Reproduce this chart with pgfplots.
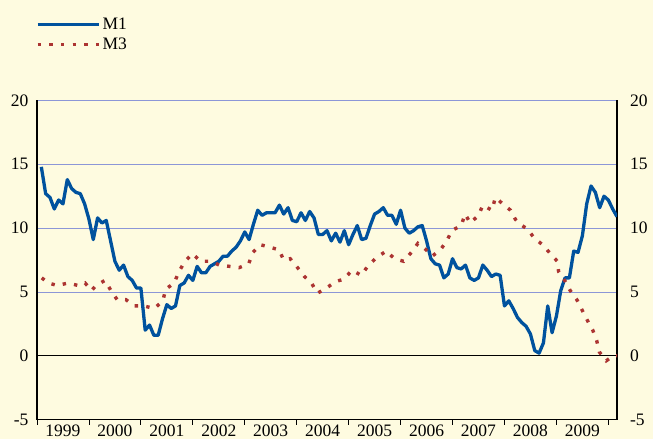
\documentclass[border=0pt]{standalone}
\usepackage{fontspec}
\setmainfont{Liberation Serif}
\usepackage{pgfplots}
\usepackage{pgfplotstable}
\pgfplotsset{compat=1.18}
\definecolor{bgcream}{RGB}{254,251,224}
\definecolor{monblue}{RGB}{0,82,158}
\definecolor{mthred}{RGB}{172,52,50}
\definecolor{gridblue}{RGB}{140,150,215}

% M1, monthly from Jan 1999 (i = months since Dec 1998)
\pgfplotstableread{
i v
1 14.8
2 12.7
3 12.4
4 11.5
5 12.2
6 11.9
7 13.8
8 13.1
9 12.8
10 12.7
11 11.9
12 10.7
13 9.1
14 10.8
15 10.4
16 10.6
17 9.0
18 7.4
19 6.7
20 7.1
21 6.2
22 5.9
23 5.3
24 5.3
25 2.0
26 2.4
27 1.6
28 1.6
29 2.9
30 4.0
31 3.7
32 3.9
33 5.5
34 5.7
35 6.3
36 5.9
37 7.0
38 6.5
39 6.5
40 7.0
41 7.2
42 7.4
43 7.8
44 7.8
45 8.2
46 8.5
47 9.0
48 9.7
49 9.1
50 10.3
51 11.4
52 11.0
53 11.2
54 11.2
55 11.2
56 11.8
57 11.1
58 11.6
59 10.6
60 10.5
61 11.2
62 10.6
63 11.3
64 10.8
65 9.5
66 9.5
67 9.8
68 9.0
69 9.6
70 8.9
71 9.8
72 8.7
73 9.5
74 10.2
75 9.1
76 9.2
77 10.2
78 11.1
79 11.3
80 11.6
81 11.0
82 11.0
83 10.3
84 11.4
85 10.0
86 9.6
87 9.8
88 10.1
89 10.2
90 9.0
91 7.6
92 7.2
93 7.1
94 6.1
95 6.4
96 7.6
97 6.9
98 6.8
99 7.1
100 6.1
101 5.9
102 6.1
103 7.1
104 6.7
105 6.2
106 6.4
107 6.3
108 3.9
109 4.3
110 3.7
111 3.0
112 2.6
113 2.3
114 1.7
115 0.4
116 0.2
117 1.0
118 3.9
119 1.8
120 3.1
121 5.1
122 6.1
123 6.1
124 8.2
125 8.1
126 9.4
127 11.9
128 13.3
129 12.8
130 11.6
131 12.5
132 12.2
133 11.5
134 10.9
}\mone

% M3
\pgfplotstableread{
i v
1.1 6.1
2.6 5.7
4.7 5.5
7.2 5.7
9.5 5.5
11.1 5.7
12.6 5.1
13.6 5.5
15.7 5.9
17.1 5.1
18.5 4.4
20.5 4.4
22.5 3.9
24.7 3.9
27.1 3.7
29.1 4.3
29.7 5.2
31.7 5.7
32.8 6.6
34.2 7.4
35.9 8.0
37.8 7.4
40.3 7.4
42.1 7.1
44.5 7.0
46.7 6.9
48.9 7.2
49.9 8.1
51.6 8.7
53.8 8.5
55.9 8.3
57.0 7.5
58.5 7.6
60.2 6.9
61.8 6.2
63.4 5.7
64.8 4.9
66.9 5.3
68.9 5.8
70.9 6.0
72.8 6.7
74.9 6.3
76.6 7.1
78.5 7.7
80.7 8.2
82.6 7.6
84.7 7.4
86.5 8.1
88.0 8.8
89.9 8.3
91.3 7.8
93.2 8.3
94.7 9.0
95.8 9.8
98.0 10.2
98.9 11.1
100.1 10.4
102.0 11.0
103.0 11.8
105.1 11.4
105.9 12.4
107.6 11.9
109.4 11.4
110.5 10.7
111.6 10.3
113.4 9.9
114.9 9.2
116.8 8.7
118.6 8.0
120.2 7.4
120.5 6.6
121.9 5.9
123.2 5.1
124.7 4.4
125.9 3.6
127.1 2.8
128.4 2.0
129.3 1.2
129.9 0.3
131.5 -0.4
133.2 0.0
134.0 0.0
}\mthree

\begin{document}
\begin{tikzpicture}[font=\fontsize{17.5}{20}\selectfont]
\fill[bgcream, use as bounding box] (-37pt,-19.5pt) rectangle (616pt,419.5pt);

\begin{axis}[
  at={(0,0)}, anchor=south west,
  scale only axis, width=580pt, height=319pt,
  xmin=0, xmax=134, ymin=-5, ymax=20,
  separate axis lines,
  axis x line*=bottom, axis y line*=box,
  x axis line style={-, line width=1.4pt, black},
  y axis line style={-, line width=1.4pt, black},
  xtick={0,12,...,132},
  xticklabels={1999,2000,2001,2002,2003,2004,2005,2006,2007,2008,2009},
  x tick label as interval,
  xtick style={black, line width=0.8pt},
  ytick={-5,5,10,15,20},
  ytick style={draw=none},
  extra y ticks={0},
  extra y tick style={grid style={black, line width=1.2pt}, ytick style={draw=none}},
  ymajorgrids,
  grid style={gridblue, line width=0.8pt},
  tick align=outside,
  major tick length=5pt,
  xticklabel style={yshift=3.5pt},
  /pgf/number format/assume math mode=true,
  legend image code/.code={\draw[#1] (0pt,0pt) -- (41pt,0pt); \path (0pt,0pt) -- (61pt,0pt);},
  legend style={at={(rel axis cs:0,1.2132)}, anchor=west, xshift=-1pt, yshift=-2pt,
    draw=none, fill=none, inner sep=0pt, row sep=3pt},
  legend cell align=left,
]
\addplot[monblue, line width=3.3pt, line join=round] table[x=i, y=v] {\mone};
\addlegendentry{M1}
\addplot[mthred, line width=3.4pt, dash pattern=on 3.4pt off 8.2pt] table[x=i, y=v] {\mthree};
\addlegendentry{M3}
\end{axis}

\begin{axis}[
  at={(0,0)}, anchor=south west,
  scale only axis, width=580pt, height=319pt,
  xmin=0, xmax=134, ymin=-5, ymax=20,
  hide x axis,
  axis y line*=right,
  y axis line style={draw=none},
  ytick={-5,0,...,20},
  ytick style={draw=none},
  tick align=outside,
  major tick length=5pt,
  yticklabel style={anchor=west, xshift=4.5pt},
  /pgf/number format/assume math mode=true,
]
\end{axis}
\end{tikzpicture}
\end{document}
